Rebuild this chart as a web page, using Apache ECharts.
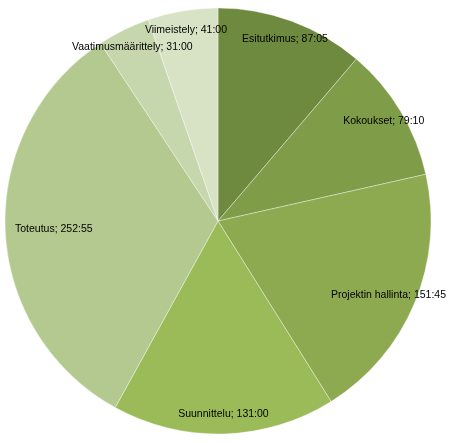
<!DOCTYPE html>
<html>
<head>
<meta charset="utf-8">
<script src="https://cdn.jsdelivr.net/npm/echarts@6/dist/echarts.min.js"></script>
<style>
  html, body { margin: 0; padding: 0; background: #fff; }
  #chart { width: 454px; height: 443px; }
</style>
</head>
<body>
<div id="chart"></div>
<script>
var categories = ['Esitutkimus', 'Kokoukset', 'Projektin hallinta', 'Suunnittelu', 'Toteutus', 'Vaatimusmäärittely', 'Viimeistely'];
// time spent, written as hours:minutes
var durations = ['87:05', '79:10', '151:45', '131:00', '252:55', '31:00', '41:00'];
var sliceColors = ['#6e8a3e', '#7f9c48', '#8eaa51', '#9bbb59', '#b3c98f', '#c6d6ad', '#d8e3c6'];

function toHours(s) {
    var p = s.split(':');
    return Number(p[0]) + Number(p[1]) / 60;
}

function pieData(colored){
    return categories.map(function (name, i) {
        return {
            name: name,
            value: toHours(durations[i]),
            label: { formatter: name + '; ' + durations[i] },
            itemStyle: { color: colored ? sliceColors[i] : 'rgba(0,0,0,0)' }
        };
    });
}

var center = [218, 221];
var chartWidth = 454;
var edgeLeft = 15, edgeRight = 8;

// keep labels from running off the sides, like the original's best-fit labels
function fitLabel(params){
    var r = params.labelRect;
    if (r.x < edgeLeft) {
        return { x: edgeLeft, y: r.y + r.height / 2, align: 'left', verticalAlign: 'middle' };
    }
    if (r.x + r.width > chartWidth - edgeRight) {
        return { x: chartWidth - edgeRight, y: r.y + r.height / 2, align: 'right', verticalAlign: 'middle' };
    }
    return {};
}

var option = {
    animation: false,
    series: [
        {
            // the slices
            type: 'pie',
            center: center,
            radius: 213,
            startAngle: 90,
            clockwise: true,
            silent: true,
            data: pieData(true),
            label: { show: false },
            labelLine: { show: false },
            itemStyle: { borderColor: 'rgba(255,255,255,0.6)', borderWidth: 0.6 }
        },
        {
            // transparent ring used only to put the labels near the rim
            type: 'pie',
            center: center,
            radius: [168, 213],
            startAngle: 90,
            clockwise: true,
            silent: true,
            data: pieData(false),
            label: {
                show: true,
                position: 'inside',
                color: '#000',
                fontFamily: 'Liberation Sans, sans-serif',
                fontSize: 10.5
            },
            labelLine: { show: false },
            labelLayout: fitLabel
        }
    ]
};

var myChart = echarts.init(document.getElementById('chart'));
myChart.setOption(option);
</script>
</body>
</html>
